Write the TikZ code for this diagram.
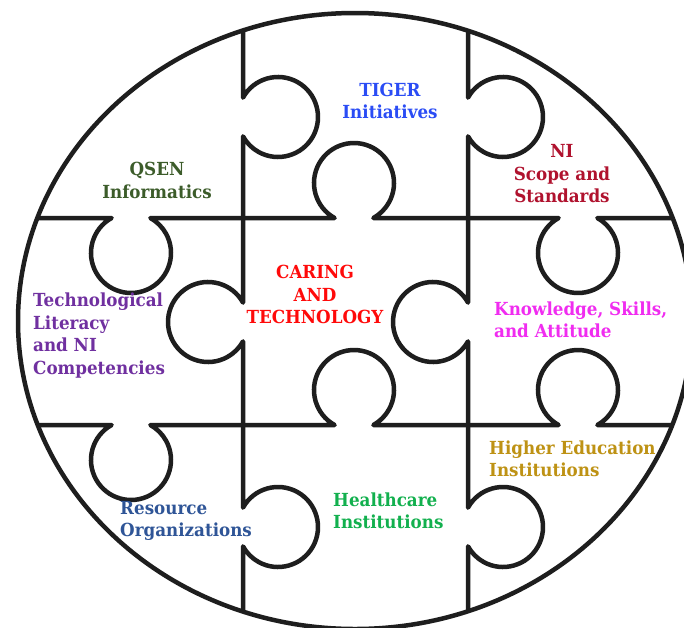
\documentclass[tikz,border=0pt]{standalone}
\usepackage{fontspec}
\newfontfamily\lblfont{DejaVu Serif}[FakeStretch=0.93]

\definecolor{qsencol}{HTML}{3C5C2A}
\definecolor{tigercol}{HTML}{2A4CF5}
\definecolor{scopecol}{HTML}{B0122E}
\definecolor{techcol}{HTML}{7030A0}
\definecolor{caringcol}{HTML}{FF0A0A}
\definecolor{ksacol}{HTML}{F02CF0}
\definecolor{rescol}{HTML}{2F5597}
\definecolor{healthcol}{HTML}{12B04E}
\definecolor{highcol}{HTML}{BE9214}
\definecolor{inkcol}{HTML}{1E1E1E}

\begin{document}
\begin{tikzpicture}[x=1pt,y=-1pt,
  puzzle/.style={line width=4.5pt, draw=inkcol, line join=round},
  pzlabel/.style={font=\lblfont\bfseries\fontsize{18}{22.5}\selectfont, inner sep=0pt},
]
\useasboundingbox (0,0) rectangle (684,627);
\fill[white] (0,0) rectangle (684,627);
\clip (0,0) rectangle (684,627);

% piece boundaries: straight cuts with round tabs (radius 40, centre 35 off the cut)
\begin{scope}
  \clip (355,321) ellipse [x radius=337, y radius=308];
  % left vertical cut
  \draw[puzzle] (243,0) -- (243,97.6)
    arc[start angle=-151, end angle=151, radius=40] -- (243,302.6)
    arc[start angle=-29, end angle=-331, radius=40] -- (243,507.6)
    arc[start angle=-151, end angle=151, radius=40] -- (243,627);
  % right vertical cut
  \draw[puzzle] (468,0) -- (468,97.6)
    arc[start angle=-151, end angle=151, radius=40] -- (468,302.6)
    arc[start angle=-29, end angle=-331, radius=40] -- (468,507.6)
    arc[start angle=-151, end angle=151, radius=40] -- (468,627);
  % upper horizontal cut
  \draw[puzzle] (0,218) -- (111.6,218)
    arc[start angle=241, end angle=-61, radius=40] -- (334.6,218)
    arc[start angle=119, end angle=421, radius=40] -- (558.6,218)
    arc[start angle=241, end angle=-61, radius=40] -- (684,218);
  % lower horizontal cut
  \draw[puzzle] (0,425) -- (111.6,425)
    arc[start angle=241, end angle=-61, radius=40] -- (334.6,425)
    arc[start angle=119, end angle=421, radius=40] -- (558.6,425)
    arc[start angle=119, end angle=421, radius=40] -- (684,425);
\end{scope}

% outer ring
\draw[puzzle] (355,321) ellipse [x radius=337, y radius=308];

% piece labels
\node[pzlabel, text=qsencol, align=center] (qsen) at (157,180.5) {QSEN\\Informatics};
\node[pzlabel, text=tigercol, align=center] (tiger) at (390,101) {TIGER\\Initiatives};
\node[pzlabel, text=scopecol, align=center] (scope) at (562,174) {NI\\Scope and\\Standards};
\node[pzlabel, text=techcol, align=left, anchor=west] (techlit) at (33,335.5) {Technological\\Literacy\\and NI\\Competencies};
\node[pzlabel, text=caringcol, align=center] (caring) at (315,294.5) {CARING\\AND\\TECHNOLOGY};
\node[pzlabel, text=ksacol, align=left, anchor=west] (ksa) at (494,320) {Knowledge, Skills,\\and Attitude};
\node[pzlabel, text=rescol, align=left, anchor=west] (resource) at (120,521) {Resource\\Organizations};
\node[pzlabel, text=healthcol, align=left, anchor=west] (health) at (333,511) {Healthcare\\Institutions};
\node[pzlabel, text=highcol, align=left, anchor=west] (highered) at (489,459) {Higher Education\\Institutions};
\end{tikzpicture}
\end{document}
